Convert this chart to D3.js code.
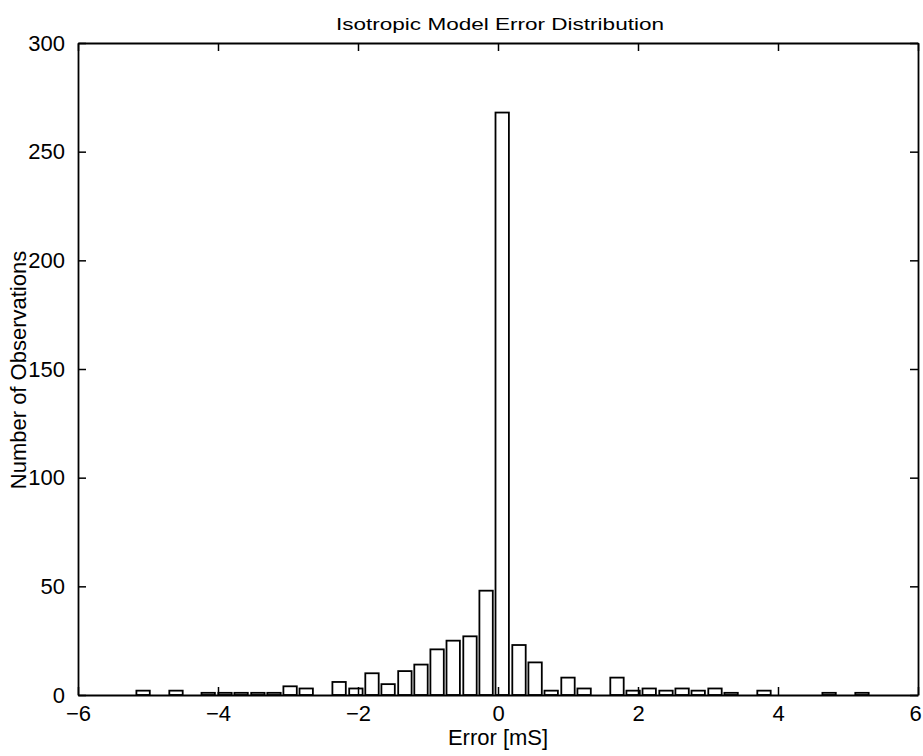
<!DOCTYPE html>
<html>
<head>
<meta charset="utf-8">
<script src="https://cdn.jsdelivr.net/npm/d3@7"></script>
<style>
  html, body { margin: 0; padding: 0; background: #fff; }
  svg { display: block; }
  text { font-family: "Liberation Sans", Arial, Helvetica, sans-serif; fill: #000; }
</style>
</head>
<body>
<svg id="chart" width="923" height="756"></svg>
<script>
// ---- data ----
const binCenters = [
  -5.07, -4.84, -4.60, -4.37, -4.14, -3.90, -3.67, -3.43, -3.20, -2.97, -2.74, -2.50,
  -2.27, -2.03, -1.80, -1.57, -1.33, -1.10, -0.87, -0.64, -0.40, -0.17,
   0.06,  0.30,  0.53,  0.76,  1.00,  1.23,  1.46,  1.70,  1.93,  2.16,  2.40,  2.63,
   2.86,  3.10,  3.33,  3.56,  3.80,  4.03,  4.26,  4.50,  4.73,  4.96,  5.20
];
const counts = [
   2, 0, 2, 0, 1, 1, 1, 1, 1, 4, 3, 0,
   6, 3, 10, 5, 11, 14, 21, 25, 27, 48,
   268, 23, 15, 2, 8, 3, 0, 8, 2, 3, 2, 3,
   2, 3, 1, 0, 2, 0, 0, 0, 1, 0, 1
];
const binWidth = 0.2333;
const xTicks = [-6, -4, -2, 0, 2, 4, 6];
const yTicks = [0, 50, 100, 150, 200, 250, 300];
const titleText = "Isotropic Model Error Distribution";
const xLabelText = "Error [mS]";
const yLabelText = "Number of Observations";

// ---- layout ----
const svg = d3.select("#chart");
const mLeft = 78, mRight = 918, mTop = 43, mBottom = 695;
const x = d3.scaleLinear().domain([-6, 6]).range([mLeft, mRight]);
const y = d3.scaleLinear().domain([0, 300]).range([mBottom, mTop]);
const fmt = d => (d < 0 ? "\u2212" + Math.abs(d) : String(d));

// bars
const barW = x(binWidth * 0.82) - x(0);
svg.append("g").selectAll("rect")
  .data(binCenters.map((c, i) => ({ c, v: counts[i] })).filter(d => d.v > 0))
  .join("rect")
  .attr("x", d => x(d.c) - barW / 2)
  .attr("y", d => y(d.v))
  .attr("width", barW)
  .attr("height", d => y(0) - y(d.v))
  .attr("fill", "#fff")
  .attr("stroke", "#000")
  .attr("stroke-width", 1.8);

// axes with inward ticks (bottom/left labelled, top/right plain)
const tl = 8;
const ax = {
  bottom: d3.axisBottom(x).tickValues(xTicks).tickSizeInner(-tl).tickSizeOuter(0).tickPadding(tl + 5).tickFormat(fmt),
  top: d3.axisTop(x).tickValues(xTicks).tickSizeInner(-tl).tickSizeOuter(0).tickFormat(""),
  left: d3.axisLeft(y).tickValues(yTicks).tickSizeInner(-tl).tickSizeOuter(0).tickPadding(tl + 5).tickFormat(fmt),
  right: d3.axisRight(y).tickValues(yTicks).tickSizeInner(-tl).tickSizeOuter(0).tickFormat("")
};
const gB = svg.append("g").attr("transform", `translate(0,${mBottom})`).call(ax.bottom);
const gT = svg.append("g").attr("transform", `translate(0,${mTop})`).call(ax.top);
const gL = svg.append("g").attr("transform", `translate(${mLeft},0)`).call(ax.left);
const gR = svg.append("g").attr("transform", `translate(${mRight},0)`).call(ax.right);
[gB, gT, gL, gR].forEach(g => {
  g.select(".domain").attr("stroke", "#000").attr("stroke-width", 1.8);
  g.selectAll(".tick line").attr("stroke", "#000").attr("stroke-width", 1.5);
  g.selectAll(".tick text").style("font-size", "22px").attr("fill", "#000");
});
gB.selectAll(".tick text").attr("dy", "0.6em");
// keep the last x label inside the page edge
gB.selectAll(".tick text").filter(d => d === xTicks[xTicks.length - 1]).attr("dx", "-3");

// labels
svg.append("text")
  .attr("x", 498).attr("y", 745)
  .attr("text-anchor", "middle").style("font-size", "22px")
  .text(xLabelText);
svg.append("text")
  .attr("transform", `translate(26,370) rotate(-90)`)
  .attr("text-anchor", "middle").style("font-size", "22px")
  .text(yLabelText);
svg.append("text")
  .attr("x", 500).attr("y", 30)
  .attr("text-anchor", "middle").style("font-size", "17px")
  .attr("textLength", 328).attr("lengthAdjust", "spacingAndGlyphs")
  .text(titleText);
</script>
</body>
</html>
